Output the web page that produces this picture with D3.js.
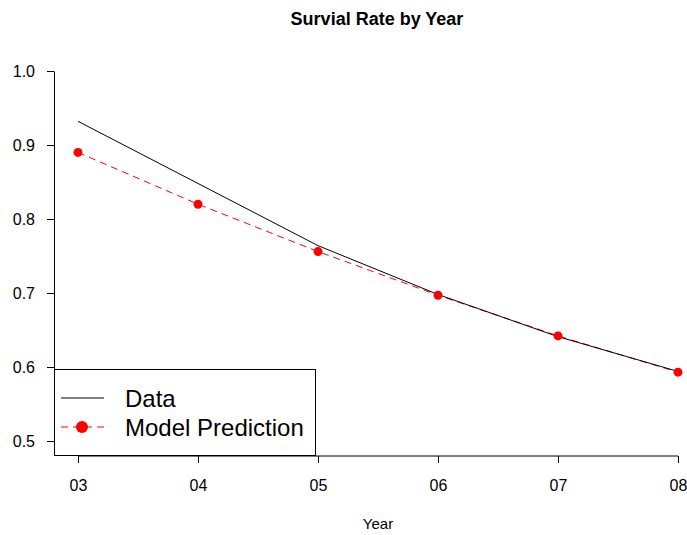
<!DOCTYPE html>
<html>
<head>
<meta charset="utf-8">
<script src="https://cdn.jsdelivr.net/npm/d3@7"></script>
<style>
  body { margin: 0; background: #fff; }
  svg { display: block; font-family: "Liberation Sans", Arial, sans-serif; }
</style>
</head>
<body>
<div id="wrapper"></div>
<script>
// Data
const years = ["03", "04", "05", "06", "07", "08"]
const observed = [0.932, 0.848, 0.764, 0.698, 0.641, 0.594]
const predicted = [0.890, 0.820, 0.756, 0.697, 0.642, 0.593]
const yTicks = [0.5, 0.6, 0.7, 0.8, 0.9, 1.0]

const width = 687
const height = 535

const svg = d3.select("#wrapper").append("svg")
  .attr("width", width)
  .attr("height", height)

const xScale = d3.scalePoint().domain(years).range([78, 678])
const yScale = d3.scaleLinear().domain([0.5, 1.0]).range([441, 71])

// Title
svg.append("text")
  .attr("x", 377).attr("y", 25)
  .attr("text-anchor", "middle")
  .style("font-weight", "bold")
  .style("font-size", "18px")
  .text("Survial Rate by Year")

// Axes
const xAxis = svg.append("g")
  .attr("transform", "translate(0,456)")
  .call(d3.axisBottom(xScale).tickSize(7).tickPadding(17).tickSizeOuter(0))
xAxis.select(".domain").attr("d", `M${xScale("03")},0H${xScale("08")}`)

const yAxis = svg.append("g")
  .attr("transform", "translate(54,0)")
  .call(d3.axisLeft(yScale).tickValues(yTicks).tickFormat(d3.format(".1f"))
    .tickSize(7).tickPadding(12).tickSizeOuter(0))

svg.selectAll(".tick text").style("font-size", "16px").attr("fill", "#000")
svg.selectAll(".domain, .tick line").attr("stroke", "#000")

svg.append("text")
  .attr("x", 378).attr("y", 529)
  .attr("text-anchor", "middle")
  .style("font-size", "15px")
  .text("Year")

// Lines
const line = (vals) => d3.line()
  .x((d, i) => xScale(years[i]))
  .y((d) => yScale(d))(vals)

svg.append("path")
  .attr("d", line(predicted))
  .attr("fill", "none")
  .attr("stroke", "#ff0000")
  .attr("stroke-dasharray", "7,5")

svg.append("path")
  .attr("d", line(observed))
  .attr("fill", "none")
  .attr("stroke", "#000")

svg.selectAll(".pt").data(predicted).join("circle")
  .attr("class", "pt")
  .attr("cx", (d, i) => xScale(years[i]))
  .attr("cy", (d) => yScale(d))
  .attr("r", 4.5)
  .attr("fill", "#ff0000")

// Legend
const legend = svg.append("g")
legend.append("rect")
  .attr("x", 54.5).attr("y", 369.5)
  .attr("width", 261).attr("height", 86)
  .attr("fill", "#fff")
  .attr("stroke", "#000")

legend.append("line")
  .attr("x1", 61).attr("x2", 104).attr("y1", 398).attr("y2", 398)
  .attr("stroke", "#000")
legend.append("line")
  .attr("x1", 61).attr("x2", 104).attr("y1", 427).attr("y2", 427)
  .attr("stroke", "#ff0000")
  .attr("stroke-dasharray", "7,5")
legend.append("circle")
  .attr("cx", 82).attr("cy", 427).attr("r", 6)
  .attr("fill", "#ff0000")

legend.append("text").attr("x", 125).attr("y", 407)
  .style("font-size", "24px").text("Data")
legend.append("text").attr("x", 125).attr("y", 436)
  .style("font-size", "24px").text("Model Prediction")
</script>
</body>
</html>
